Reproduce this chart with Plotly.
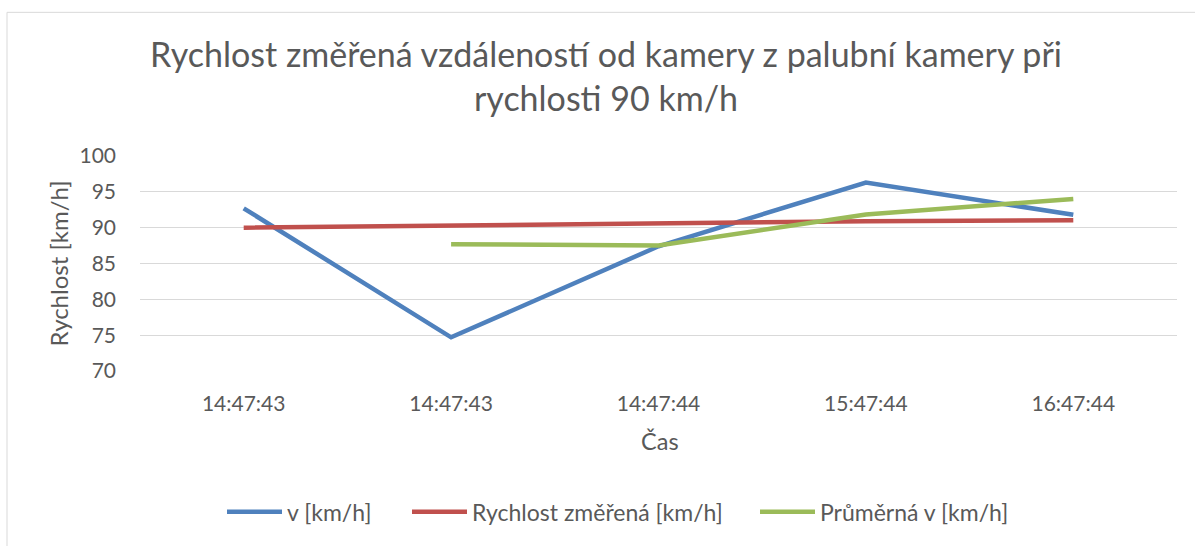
import plotly.graph_objects as go

categories = ["14:47:43", "14:47:43", "14:47:44", "15:47:44", "16:47:44"]
v_kmh = [92.7, 74.7, 87.4, 96.3, 91.8]
rychlost_zmerena = [90.0, 90.3, 90.65, 90.9, 91.05]
prumerna_v = [None, 87.7, 87.5, 91.85, 94.0]
y_ticks = [70, 75, 80, 85, 90, 95, 100]

title_text = "Rychlost změřená vzdáleností od kamery z palubní kamery při<br>rychlosti 90 km/h"

FONT = "Lato"
TXT = "#595959"
pos = list(range(len(categories)))

fig = go.Figure()
fig.add_trace(go.Scatter(x=pos, y=v_kmh, mode="lines", name="v [km/h]", legend="legend",
                         line=dict(color="#4F81BD", width=4.5)))
fig.add_trace(go.Scatter(x=pos, y=rychlost_zmerena, mode="lines", name="Rychlost změřená [km/h]",
                         legend="legend2", line=dict(color="#C0504D", width=4.5)))
fig.add_trace(go.Scatter(x=pos, y=prumerna_v, mode="lines", name="Průměrná v [km/h]",
                         legend="legend3", line=dict(color="#9BBB59", width=4.5), connectgaps=False))

W, H = 1195, 546
L, R, T, B = 140, 18, 156, 173
pw, ph = W - L - R, H - T - B

def px(x):
    return (x - L) / pw

def py(y):
    return (H - B - y) / ph

def leg(x_left):
    return dict(orientation="h", x=px(x_left), xanchor="left", y=py(515), yanchor="middle",
                font=dict(family=FONT, size=23, color=TXT), bgcolor="rgba(0,0,0,0)",
                itemwidth=55)

fig.update_layout(
    width=W, height=H,
    margin=dict(l=L, r=R, t=T, b=B),
    paper_bgcolor="white", plot_bgcolor="white",
    font=dict(family=FONT, color=TXT),
    showlegend=True,
    legend=leg(222), legend2=leg(407), legend3=leg(755),
    xaxis=dict(range=[-0.5, len(categories) - 0.5], tickmode="array", tickvals=pos,
               ticktext=categories, showgrid=False, zeroline=False, showline=False,
               tickfont=dict(family=FONT, size=21, color=TXT), ticks="", ticklabelstandoff=18,
               fixedrange=True),
    yaxis=dict(range=[70, 100], tickmode="array", tickvals=y_ticks, showgrid=True,
               gridcolor="#D9D9D9", gridwidth=1.3, zeroline=False, showline=False,
               tickfont=dict(family=FONT, size=21, color=TXT), ticks="", ticklabelstandoff=23,
               fixedrange=True),
    annotations=[
        dict(text=title_text, xref="paper", yref="paper", x=px(606), y=py(75), xanchor="center",
             yanchor="middle", showarrow=False, align="center",
             font=dict(family=FONT, size=34, color=TXT)),
        dict(text="Čas", xref="paper", yref="paper", x=px(660), y=py(444), xanchor="center",
             yanchor="middle", showarrow=False, font=dict(family=FONT, size=23.5, color=TXT)),
        dict(text="Rychlost [km/h]", xref="paper", yref="paper", x=px(58), y=0.5, xanchor="center",
             yanchor="middle", showarrow=False, textangle=-90, font=dict(family=FONT, size=24, color=TXT)),
    ],
    shapes=[
        dict(type="rect", xref="paper", yref="paper", x0=px(7), x1=px(1215), y0=py(560), y1=py(11),
             line=dict(color="#D9D9D9", width=1), fillcolor="rgba(0,0,0,0)", layer="below"),
    ],
)

fig.write_html("out.html", config={"displayModeBar": False},
               post_script="document.body.style.margin='0';")
